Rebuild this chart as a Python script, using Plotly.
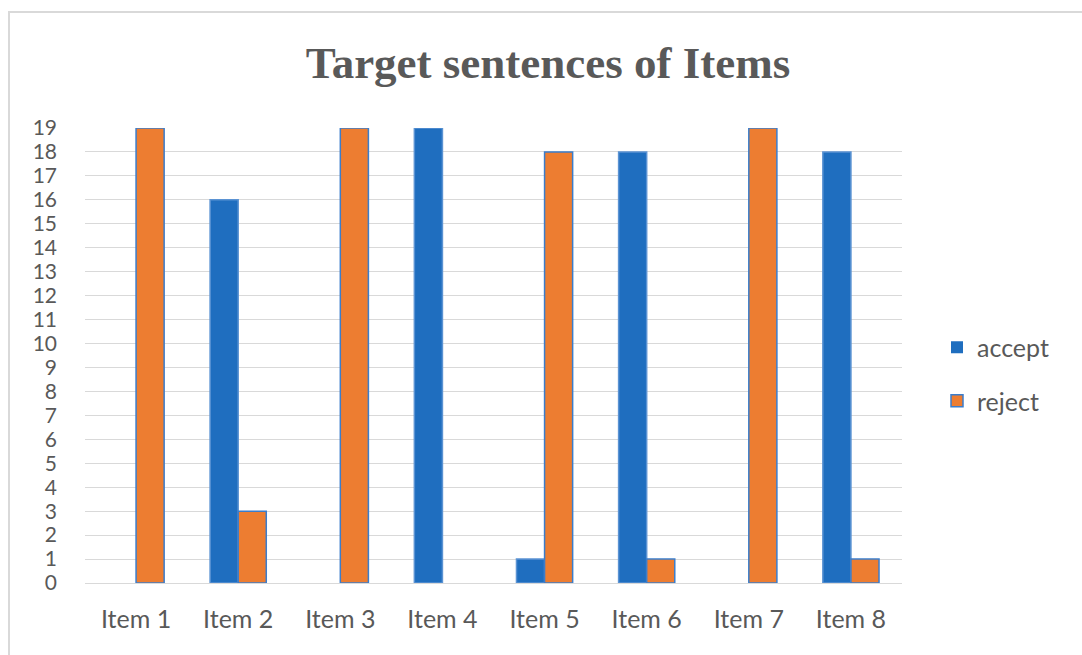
import plotly.graph_objects as go

categories = ["Item 1", "Item 2", "Item 3", "Item 4", "Item 5", "Item 6", "Item 7", "Item 8"]
accept = [0, 16, 0, 19, 1, 18, 0, 18]
reject = [19, 3, 19, 0, 18, 1, 19, 1]
y_ticks = list(range(0, 20))

W, H = 1082, 655
L, R, T, B = 85, 180, 128, 72
pw, ph = W - L - R, H - T - B

def px_to_paper_x(px):
    return (px - L) / pw

def px_to_paper_y(py):
    return (H - B - py) / ph

def edge_widths(vals, w=1.5):
    # zero-valued bars are not drawn in the reference, so hide their outline
    return [w if v else 0 for v in vals]

fig = go.Figure()
fig.add_trace(go.Bar(
    x=categories, y=accept, name="accept", legendgroup="a",
    marker=dict(color="#1F6EBF", line=dict(color="#5B93D3", width=edge_widths(accept))),
))
fig.add_trace(go.Bar(
    x=categories, y=reject, name="reject", legendgroup="r",
    marker=dict(color="#ED7D31", line=dict(color="#3B7DCB", width=edge_widths(reject))),
))

fig.update_layout(
    width=W, height=H,
    margin=dict(l=L, r=R, t=T, b=B),
    paper_bgcolor="white", plot_bgcolor="white",
    barmode="group", bargap=0.45, bargroupgap=0,
    title=dict(
        text="<b>Target sentences of Items</b>",
        font=dict(family="Liberation Serif", size=45, color="#595959"),
        x=548 / W, xref="container", xanchor="center",
        y=1 - 62 / H, yref="container", yanchor="middle",
    ),
    font=dict(family="Lato", size=25, color="#595959"),
    legend=dict(
        x=px_to_paper_x(937), y=px_to_paper_y(374), xanchor="left", yanchor="middle",
        tracegroupgap=18, font=dict(family="Lato", size=25, color="#595959"),
        bgcolor="rgba(0,0,0,0)",
    ),
    xaxis=dict(
        showgrid=False, showline=False, ticks="", ticklabelstandoff=19,
        tickfont=dict(family="Lato", size=25, color="#595959"),
    ),
    yaxis=dict(
        range=[0, 19], tickvals=y_ticks, ticktext=[str(v) for v in y_ticks],
        showgrid=True, gridcolor="#D9D9D9", gridwidth=1,
        zeroline=True, zerolinecolor="#D9D9D9", zerolinewidth=1,
        showline=False, ticks="", ticklabelstandoff=27,
        tickfont=dict(family="Lato", size=21, color="#595959"),
    ),
    shapes=[dict(
        type="rect", xref="paper", yref="paper",
        x0=px_to_paper_x(9), x1=px_to_paper_x(1100),
        y0=px_to_paper_y(670), y1=px_to_paper_y(12),
        line=dict(color="#D9D9D9", width=2), fillcolor="rgba(0,0,0,0)",
        layer="below",
    )],
)

fig.write_html("out.html")
